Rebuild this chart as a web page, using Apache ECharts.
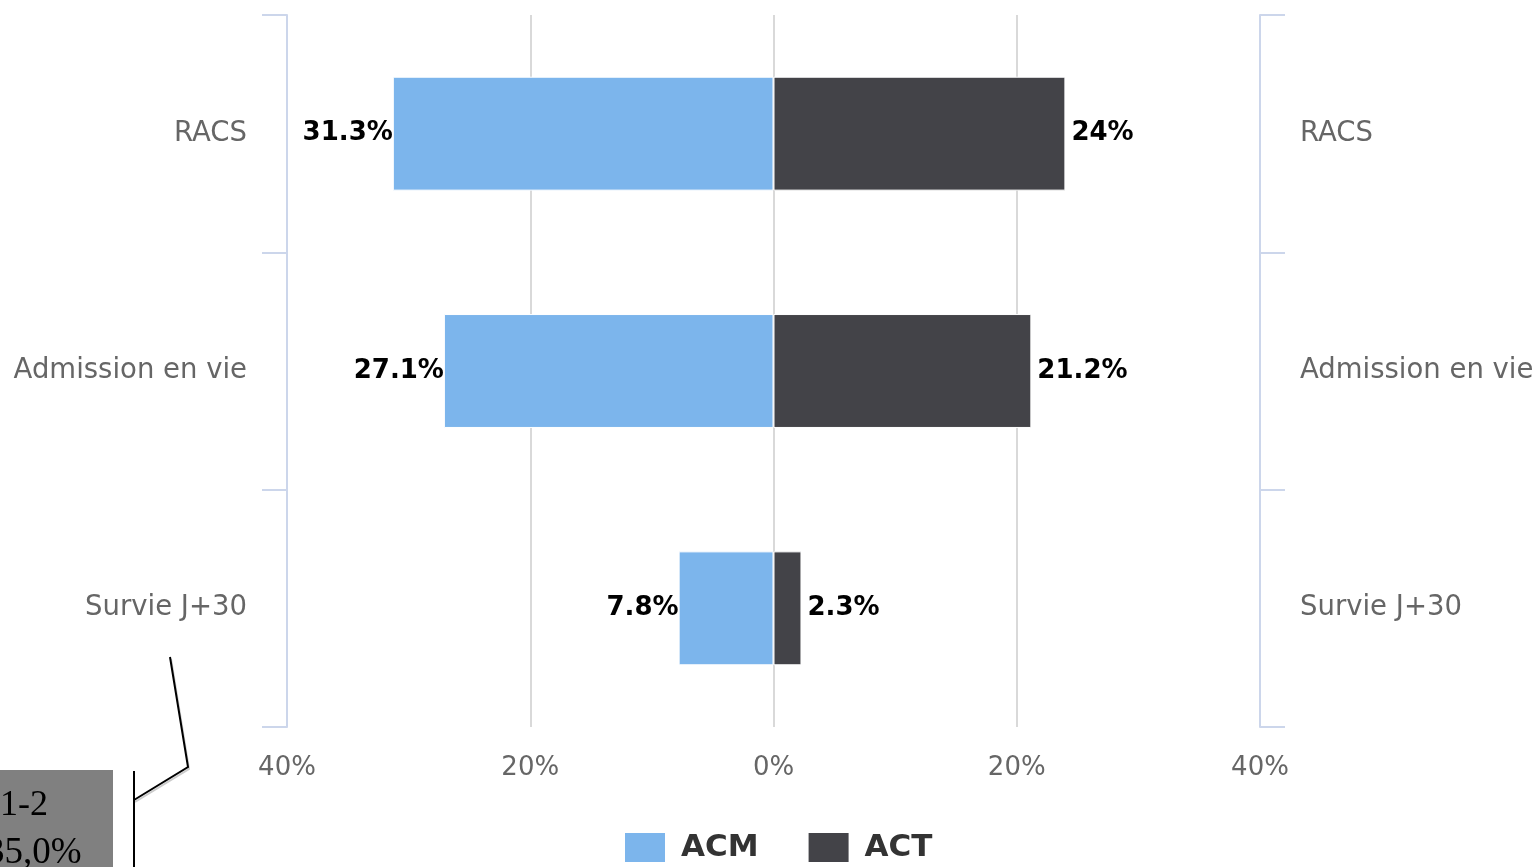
<!DOCTYPE html>
<html>
<head>
<meta charset="utf-8">
<script src="https://cdn.jsdelivr.net/npm/echarts@6/dist/echarts.min.js"></script>
<style>html,body{margin:0;padding:0;background:#fff;}#c{width:1539px;height:867px;}</style>
</head>
<body>
<div id="c"></div>
<script>
const categories = ['RACS', 'Admission en vie', 'Survie J+30'];
const acmValues = [31.3, 27.1, 7.8];
const actValues = [24, 21.2, 2.3];
const seriesNames = ['ACM', 'ACT'];
const xTicks = [-40, -20, 0, 20, 40];

const chart = echarts.init(document.getElementById('c'));
const fontFam = '"DejaVu Sans", Verdana, sans-serif';
const yAxisCommon = {
  type: 'category',
  data: categories,
  inverse: true,
  axisLine: { show: true, onZero: false, lineStyle: { color: '#ccd6eb', width: 2 } },
  axisTick: { show: true, length: 25, lineStyle: { color: '#ccd6eb', width: 2 } },
  axisLabel: { color: '#666666', fontSize: 27.5, fontFamily: fontFam, margin: 40, padding: [8, 0, 0, 0] },
  splitLine: { show: false }
};
chart.setOption({
  animation: false,
  backgroundColor: '#ffffff',
  grid: { left: 287, right: 279, top: 15, bottom: 140, containLabel: false },
  legend: {
    bottom: 3, left: 623,
    data: seriesNames,
    icon: 'rect', itemWidth: 42, itemHeight: 31, itemGap: 48,
    textStyle: { fontSize: 31, fontWeight: 'bold', color: '#333333', fontFamily: fontFam, padding: [14, 0, 0, 10] },
    padding: 0
  },
  xAxis: {
    type: 'value', min: xTicks[0], max: xTicks[xTicks.length - 1], interval: 20,
    axisLine: { show: false }, axisTick: { show: false },
    splitLine: { show: true, lineStyle: { color: '#d9d9d9', width: 2 } },
    axisLabel: { color: '#666666', fontSize: 26, fontFamily: fontFam, margin: 28,
      formatter: v => Math.abs(v) + '%' }
  },
  yAxis: [
    Object.assign({}, yAxisCommon, { position: 'left' }),
    Object.assign({}, yAxisCommon, { position: 'right' })
  ],
  series: [
    {
      name: seriesNames[0], type: 'bar', stack: 'total', barWidth: '48%',
      data: acmValues.map(v => -v),
      itemStyle: { color: '#7cb5ec', borderColor: '#ffffff', borderWidth: 1 },
      label: { show: true, position: 'left', distance: 0, formatter: p => Math.abs(p.value) + '%',
        fontSize: 26, fontWeight: 'bold', color: '#000000', fontFamily: fontFam,
        textBorderColor: '#ffffff', textBorderWidth: 1, padding: [4, 0, 0, 0] }
    },
    {
      name: seriesNames[1], type: 'bar', stack: 'total', barWidth: '48%',
      data: actValues,
      itemStyle: { color: '#434348', borderColor: '#ffffff', borderWidth: 1 },
      label: { show: true, position: 'right', distance: 6, formatter: p => p.value + '%',
        fontSize: 26, fontWeight: 'bold', color: '#000000', fontFamily: fontFam,
        textBorderColor: '#ffffff', textBorderWidth: 1, padding: [4, 0, 0, 0] }
    }
  ],
  graphic: [
    { type: 'rect', shape: { x: 0, y: 770, width: 113, height: 100 }, style: { fill: '#808080' }, z: 100 },
    { type: 'text', x: 0, y: 788, style: { text: '1-2', font: '36px "Liberation Serif", serif', fill: '#000' }, z: 101 },
    { type: 'text', x: -14, y: 835, style: { text: '35,0%', font: '37px "Liberation Serif", serif', fill: '#000' }, z: 101 },
    { type: 'polyline', shape: { points: [[171, 659], [189, 769], [135, 802]] }, style: { stroke: '#cccccc', lineWidth: 2, fill: null }, z: 100 },
    { type: 'polyline', shape: { points: [[170, 657], [188, 767], [134, 800]] }, style: { stroke: '#000000', lineWidth: 2, fill: null }, z: 101 },
    { type: 'line', shape: { x1: 134, y1: 771, x2: 134, y2: 867 }, style: { stroke: '#000000', lineWidth: 2 }, z: 101 }
  ]
});
</script>
</body>
</html>
